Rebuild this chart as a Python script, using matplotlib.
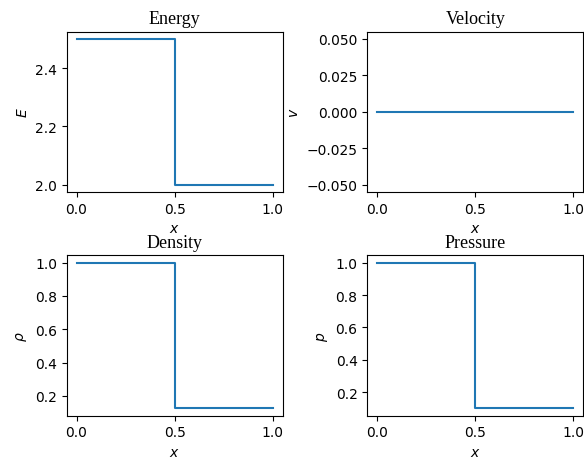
import numpy as np
import matplotlib
matplotlib.use('Agg')
import matplotlib.pyplot as plt

# Sod shock tube initial state
x = [0.0, 0.5, 0.5, 1.0]
energy = [2.5, 2.5, 2.0, 2.0]
velocity = [0.0, 0.0, 0.0, 0.0]
density = [1.0, 1.0, 0.125, 0.125]
pressure = [1.0, 1.0, 0.1, 0.1]

titles = ['Energy', 'Velocity', 'Density', 'Pressure']
ylabels = ['$E$', '$v$', r'$\rho$', '$p$']
series = [energy, velocity, density, pressure]
xticks = [0.0, 0.5, 1.0]

fig, axes = plt.subplots(2, 2, figsize=(5.84, 4.6), dpi=100)
fig.subplots_adjust(left=0.1142, right=0.9988, top=0.929, bottom=0.0942,
                    wspace=0.392, hspace=0.396)

for ax, title, ylab, y in zip(axes.flat, titles, ylabels, series):
    ax.plot(x, y)
    ax.set_title(title, fontfamily='Liberation Serif', fontsize=13)
    ax.set_xticks(xticks)
    ax.set_xlabel('$x$')
    ax.set_ylabel(ylab)

fig.savefig('out.png', dpi=100)
